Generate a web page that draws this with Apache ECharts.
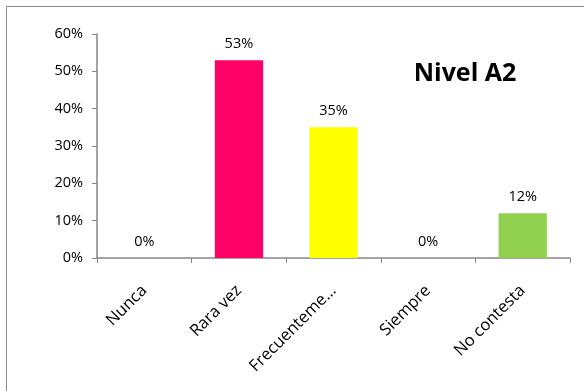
<!DOCTYPE html>
<html>
<head>
<meta charset="utf-8">
<script src="https://cdn.jsdelivr.net/npm/echarts@6/dist/echarts.min.js"></script>
<style>
  html, body { margin: 0; padding: 0; background: #fff; overflow: hidden; }
  #frame { position: absolute; left: 6px; top: 6px; width: 620px; height: 420px; border: 1px solid #8c8c8c; box-sizing: border-box; }
  #chart { position: absolute; left: 0; top: 0; width: 584px; height: 391px; }
</style>
</head>
<body>
<div id="frame"></div>
<div id="chart"></div>
<script>
const categories = ['Nunca', 'Rara vez', 'Frecuenteme...', 'Siempre', 'No contesta'];
const values = [0, 53, 35, 0, 12];
const barColors = ['#4f81bd', '#ff0066', '#ffff00', '#4f81bd', '#92d050'];
const yTicks = [0, 10, 20, 30, 40, 50, 60];
const titleText = 'Nivel A2';

const font = '"Open Sans", "Noto Sans", sans-serif';
const chart = echarts.init(document.getElementById('chart'), null, { renderer: 'canvas' });

chart.setOption({
  animation: false,
  backgroundColor: 'transparent',
  title: {
    text: titleText,
    left: 460, top: 56, textAlign: 'center',
    textStyle: { fontFamily: font, fontWeight: 'bold', fontSize: 25, color: '#000' }
  },
  grid: { left: 97, right: 14, top: 34, bottom: 133, containLabel: false },
  xAxis: {
    type: 'category',
    data: categories,
    axisLine: { lineStyle: { color: '#868686', width: 1.5 } },
    axisTick: { show: true, length: 5, lineStyle: { color: '#868686' }, alignWithLabel: false },
    axisLabel: { rotate: 45, margin: 30, fontFamily: font, fontSize: 16.5, color: '#000', interval: 0 }
  },
  yAxis: {
    type: 'value',
    min: yTicks[0], max: yTicks[yTicks.length - 1], interval: 10,
    splitLine: { show: false },
    axisLine: { show: true, lineStyle: { color: '#868686', width: 1.5 } },
    axisTick: { show: true, length: 5, lineStyle: { color: '#868686' } },
    axisLabel: { formatter: '{value}%', margin: 14, fontFamily: font, fontSize: 14.5, color: '#000' }
  },
  series: [{
    type: 'bar',
    barWidth: '51%',
    data: values.map((v, i) => ({ value: v, itemStyle: { color: barColors[i] } })),
    label: {
      show: true, position: 'top', distance: 9,
      formatter: '{c}%',
      fontFamily: font, fontSize: 14.5, color: '#000'
    }
  }]
});
</script>
</body>
</html>
